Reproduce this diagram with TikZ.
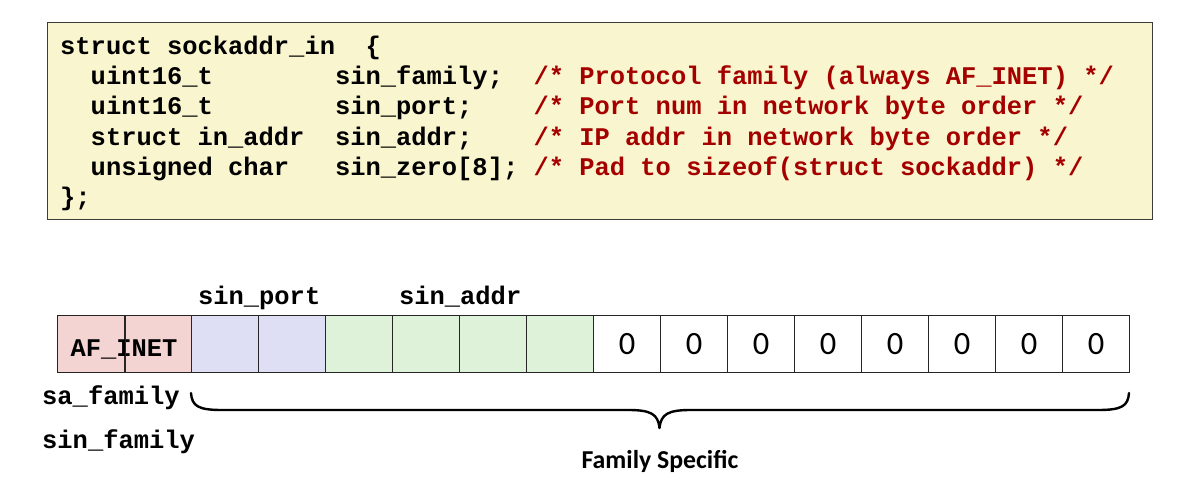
\documentclass[tikz,border=0pt]{standalone}
\usepackage{fontspec}
\setmonofont{Liberation Mono}
\newfontfamily\calfont{Carlito}
\definecolor{codebg}{RGB}{249,245,206}
\definecolor{codeborder}{RGB}{60,60,60}
\definecolor{cmtred}{RGB}{165,0,0}
\definecolor{famfill}{RGB}{244,211,211}
\definecolor{portfill}{RGB}{222,222,244}
\definecolor{addrfill}{RGB}{221,242,216}
\begin{document}
\begin{tikzpicture}[x=1pt,y=-1pt,
  code/.style={anchor=base west,inner sep=0pt,font=\ttfamily\bfseries\fontsize{25.45}{30}\selectfont},
  cmt/.style={code,text=cmtred},
  lbl/.style={anchor=base,inner sep=0pt,font=\ttfamily\bfseries\fontsize{25.45}{30}\selectfont},
  cell/.style={draw=black!85,line width=1.2pt,minimum width=67pt,minimum height=57pt,inner sep=0pt,anchor=north west},
  zero/.style={cell,fill=white,font=\calfont\fontsize{32.5}{32}\selectfont},
  bracepath/.style={line width=2.4pt,line cap=round,line join=round}
]
\useasboundingbox (0,0) rectangle (1187,493);
% code box
\node[draw=codeborder,fill=codebg,line width=1.3pt,minimum width=1105pt,minimum height=197pt,anchor=north west,inner sep=0pt] (box) at (47,22) {};
\def\cx#1{60+15.27*#1}
% line 1
\node[code] (l1a) at ({\cx{0}},54) {struct sockaddr\_in};
\node[code] (l1b) at ({\cx{20}},54) {\{};
% line 2
\node[code] (l2a) at ({\cx{2}},84.3) {uint16\_t};
\node[code] (l2b) at ({\cx{18}},84.3) {sin\_family;};
\node[cmt] (l2c) at ({\cx{31}},84.3) {/* Protocol family (always AF\_INET) */};
% line 3
\node[code] (l3a) at ({\cx{2}},114.6) {uint16\_t};
\node[code] (l3b) at ({\cx{18}},114.6) {sin\_port;};
\node[cmt] (l3c) at ({\cx{31}},114.6) {/* Port num in network byte order */};
% line 4
\node[code] (l4a) at ({\cx{2}},145) {struct in\_addr};
\node[code] (l4b) at ({\cx{18}},145) {sin\_addr;};
\node[cmt] (l4c) at ({\cx{31}},145) {/* IP addr in network byte order */};
% line 5
\node[code] (l5a) at ({\cx{2}},175.2) {unsigned char};
\node[code] (l5b) at ({\cx{18}},175.2) {sin\_zero[8];};
\node[cmt] (l5c) at ({\cx{31}},175.2) {/* Pad to sizeof(struct sockaddr) */};
% line 6
\node[code] (l6a) at ({\cx{0}},205.5) {\};};
% cells
\node[cell,fill=famfill] (c1) at (57,315) {};
\node[cell,fill=famfill] (c2) at (124,315) {};
\node[cell,fill=portfill] (c3) at (191,315) {};
\node[cell,fill=portfill] (c4) at (258,315) {};
\node[cell,fill=addrfill] (c5) at (325,315) {};
\node[cell,fill=addrfill] (c6) at (392,315) {};
\node[cell,fill=addrfill] (c7) at (459,315) {};
\node[cell,fill=addrfill] (c8) at (526,315) {};
\foreach \i in {9,...,16}{
  \node[zero] (c\i) at ({57+67*(\i-1)},315) {0};
}
\node[lbl] (afinet) at (124,356) {AF\_INET};
\draw[draw=black!85,line width=1.2pt] (c1.north east) -- (c1.south east);
% labels
\node[lbl] (lport) at (c3.north east |- 0,304) {sin\_port};
\node[lbl] (laddr) at (c6.north east |- 0,304) {sin\_addr};
\node[code] (lsa) at (42,404) {sa\_family};
\node[code] (lsin) at (42,448) {sin\_family};
% brace
\coordinate (bl) at (191,393);
\coordinate (br) at (1129,393);
\coordinate (bt) at (659.5,428);
\draw[bracepath] (bl) .. controls (192,406) and (198,410) .. (222,410)
  -- (628,410) .. controls (651,410) and (658,414) .. (bt)
  .. controls (661,414) and (668,410) .. (691,410)
  -- (1098,410) .. controls (1122,410) and (1128,406) .. (br);
\node[anchor=base,inner sep=0pt,font=\calfont\bfseries\fontsize{25.8}{28}\selectfont] (fam) at (660,468) {Family Specific};
\end{tikzpicture}
\end{document}
